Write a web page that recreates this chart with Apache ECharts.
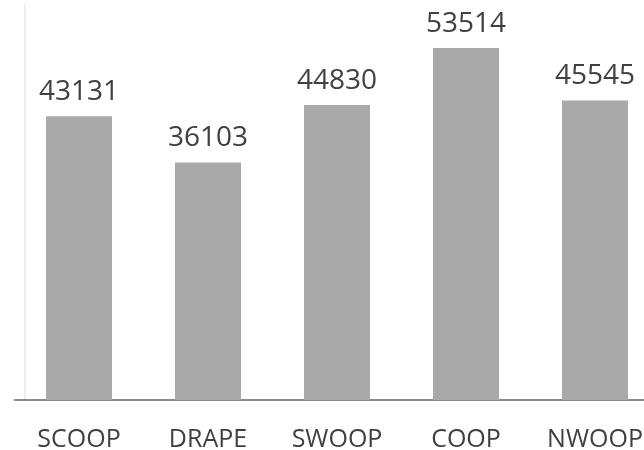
<!DOCTYPE html>
<html>
<head>
<meta charset="utf-8">
<script src="https://cdn.jsdelivr.net/npm/echarts@6/dist/echarts.min.js"></script>
<style>html,body{margin:0;padding:0;background:#fff}#c{width:644px;height:450px}</style>
</head>
<body>
<div id="c"></div>
<script>
const categories = ["SCOOP", "DRAPE", "SWOOP", "COOP", "NWOOP"];
const values = [43131, 36103, 44830, 53514, 45545];

const chart = echarts.init(document.getElementById('c'), null, {renderer: 'canvas'});
chart.setOption({
  animation: false,
  backgroundColor: '#ffffff',
  grid: {left: 14.5, top: 5.3, width: 645, height: 394.7, containLabel: false, outerBoundsMode: 'none'},
  xAxis: {
    type: 'category',
    data: categories,
    axisLine: {show: true, lineStyle: {color: '#666666', width: 1.5}},
    axisTick: {show: false},
    axisLabel: {color: '#404040', fontFamily: 'Open Sans', fontSize: 25, margin: 27, interval: 0}
  },
  yAxis: {
    type: 'value',
    min: 0,
    max: 60000,
    offset: -10,
    splitLine: {show: false},
    axisLabel: {show: false},
    axisTick: {show: false},
    axisLine: {show: true, lineStyle: {color: '#eeeeee', width: 2}}
  },
  series: [{
    type: 'bar',
    data: values,
    barWidth: 66,
    itemStyle: {color: '#a9a9a9'},
    label: {
      show: true,
      position: 'top',
      distance: 10,
      color: '#404040',
      fontFamily: 'Open Sans',
      fontSize: 28
    }
  }]
});
</script>
</body>
</html>
